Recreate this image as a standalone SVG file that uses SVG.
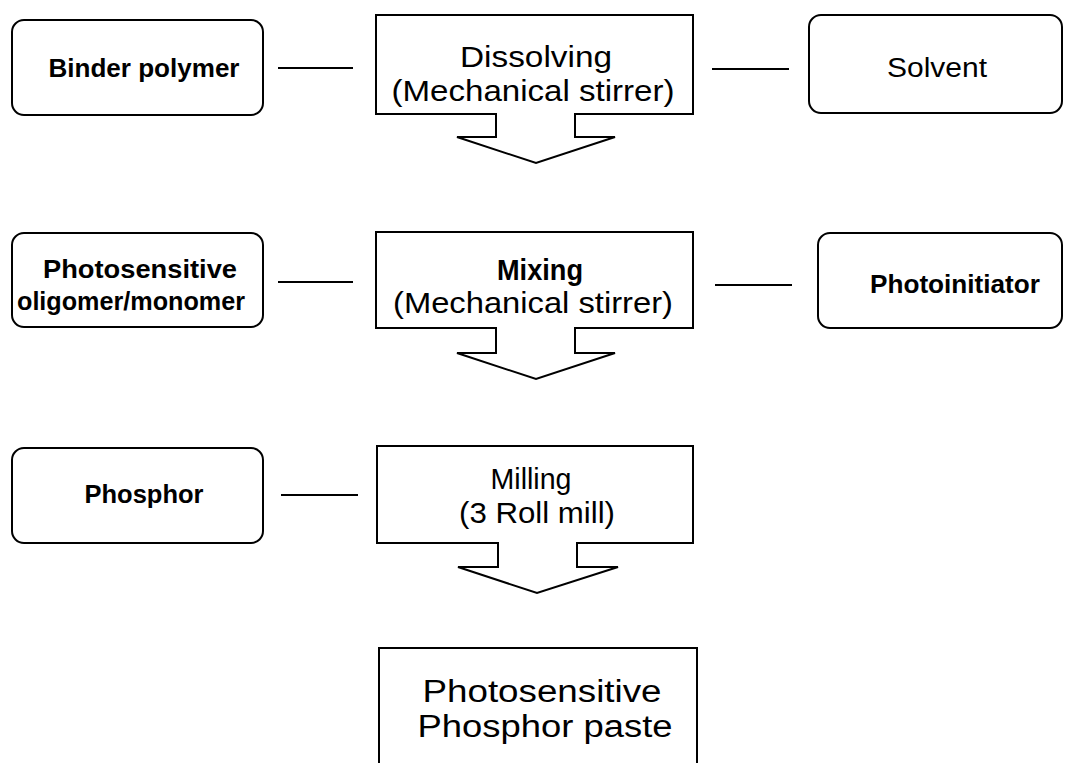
<svg xmlns="http://www.w3.org/2000/svg" width="1066" height="763" viewBox="0 0 1066 763">
<style>
.box{fill:#fff;stroke:#000;stroke-width:2}
.ln{stroke:#000;stroke-width:2;fill:none}
text{font-family:"Liberation Sans",Arial,sans-serif;fill:#000;text-anchor:middle}
.b{font-weight:bold;font-size:25px}
.r{font-size:29px}
</style>
<rect width="1066" height="763" fill="#fff"/>
<g id="connectors">
<line class="ln" x1="278" y1="68" x2="353" y2="68"/>
<line class="ln" x1="712" y1="69" x2="789" y2="69"/>
<line class="ln" x1="278" y1="282" x2="353" y2="282"/>
<line class="ln" x1="715" y1="285" x2="792" y2="285"/>
<line class="ln" x1="281" y1="495" x2="358" y2="495"/>
</g>
<g id="binder">
<rect class="box" x="12" y="20" width="251" height="95" rx="12"/>
<text class="b" x="144" y="77" textLength="191" lengthAdjust="spacingAndGlyphs">Binder polymer</text>
</g>
<g id="dissolving">
<path class="box" d="M376,15 H693 V114 H575 V137 H615 L536,163 L457,137 H496 V114 H376 Z"/>
<text class="r" x="536" y="67" textLength="152" lengthAdjust="spacingAndGlyphs">Dissolving</text>
<text class="r" x="533" y="101" textLength="283" lengthAdjust="spacingAndGlyphs">(Mechanical stirrer)</text>
</g>
<g id="solvent">
<rect class="box" x="809" y="15" width="253" height="98" rx="12"/>
<text x="937" y="77" font-size="27" textLength="100" lengthAdjust="spacingAndGlyphs">Solvent</text>
</g>
<g id="oligomer">
<rect class="box" x="12" y="233" width="251" height="94" rx="12"/>
<text class="b" x="140" y="278" textLength="194" lengthAdjust="spacingAndGlyphs">Photosensitive</text>
<text class="b" x="131" y="310" textLength="228" lengthAdjust="spacingAndGlyphs">oligomer/monomer</text>
</g>
<g id="mixing">
<path class="box" d="M376,232 H693 V328 H575 V353 H615 L536,379 L457,353 H496 V328 H376 Z"/>
<text x="540" y="280" font-size="30" font-weight="bold" textLength="86" lengthAdjust="spacingAndGlyphs">Mixing</text>
<text class="r" x="533" y="313" textLength="280" lengthAdjust="spacingAndGlyphs">(Mechanical stirrer)</text>
</g>
<g id="photoinitiator">
<rect class="box" x="818" y="233" width="244" height="95" rx="12"/>
<text class="b" x="955" y="293" textLength="170" lengthAdjust="spacingAndGlyphs">Photoinitiator</text>
</g>
<g id="phosphor">
<rect class="box" x="12" y="448" width="251" height="95" rx="12"/>
<text class="b" x="144" y="503" textLength="119" lengthAdjust="spacingAndGlyphs">Phosphor</text>
</g>
<g id="milling">
<path class="box" d="M377,446 H693 V543 H577 V567 H618 L537,593 L458,567 H498 V543 H377 Z"/>
<text class="r" x="531" y="489" textLength="81" lengthAdjust="spacingAndGlyphs">Milling</text>
<text class="r" x="537" y="523" textLength="156" lengthAdjust="spacingAndGlyphs">(3 Roll mill)</text>
</g>
<g id="paste">
<rect class="box" x="379" y="648" width="318" height="130"/>
<text x="542" y="702" font-size="31" textLength="239" lengthAdjust="spacingAndGlyphs">Photosensitive</text>
<text x="545" y="737" font-size="31" textLength="255" lengthAdjust="spacingAndGlyphs">Phosphor paste</text>
</g>
</svg>
